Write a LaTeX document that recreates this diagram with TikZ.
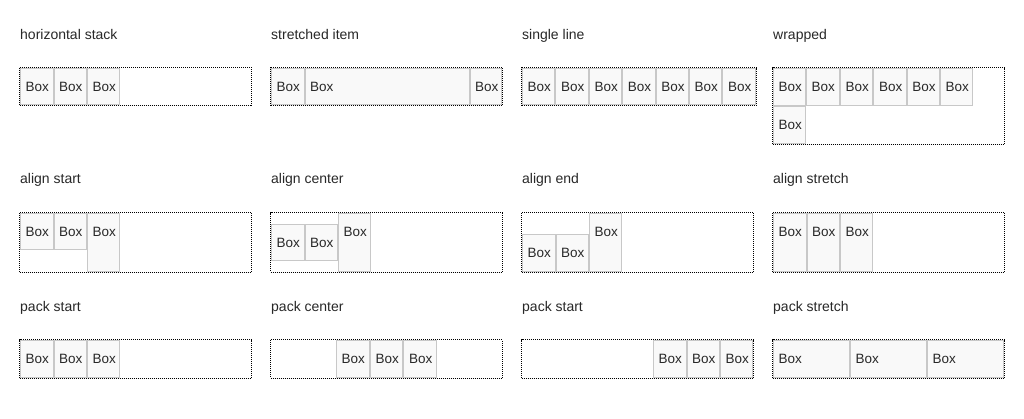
\documentclass[tikz,border=0pt]{standalone}
\usepackage{fontspec}
\setmainfont{Liberation Sans}
\definecolor{boxfill}{HTML}{F9F9F9}
\definecolor{boxline}{HTML}{C8C8C8}
\definecolor{txt}{HTML}{282828}
\tikzset{
 cont/.style={draw=black, densely dotted, line width=1pt, rectangle, inner sep=0pt, outer sep=0pt, anchor=north west},
 bx/.style={draw=boxline, fill=boxfill, line width=1pt, rectangle, inner sep=0pt, outer sep=0pt, anchor=north west},
 bxt/.style={anchor=base west, inner sep=0pt, text=txt, font=\fontsize{13.5}{15}\selectfont},
 ttl/.style={anchor=base west, inner sep=0pt, text=txt, font=\fontsize{14}{16}\selectfont},
}
% container: name, left, top, right, bottom (outer edges, px)
\newcommand\ctr[5]{\node[cont, minimum width={(#4-#2-1)*1pt}, minimum height={(#5-#3-1)*1pt}] (#1) at (#2+0.5,#3+0.5) {};}
% box: name, left, top, right, bottom
\newcommand\bx[5]{\node[bx, minimum width={(#4-#2-1)*1pt}, minimum height={(#5-#3-1)*1pt}] (#1) at (#2+0.5,#3+0.5) {};
 \node[bxt] (#1t) at ([shift={(5,23)}]#1.north west) {Box};}
\begin{document}
\begin{tikzpicture}[x=1pt,y=-1pt]
\useasboundingbox[fill=white] (0,0) rectangle (1024,418);
% titles
\node[ttl] (t11) at (20,39) {horizontal stack};
\node[ttl] (t12) at (271,39) {stretched item};
\node[ttl] (t13) at (522,39) {single line};
\node[ttl] (t14) at (773,39) {wrapped};
\node[ttl] (t21) at (20,183) {align start};
\node[ttl] (t22) at (271,183) {align center};
\node[ttl] (t23) at (522,183) {align end};
\node[ttl] (t24) at (773,183) {align stretch};
\node[ttl] (t31) at (20,311) {pack start};
\node[ttl] (t32) at (271,311) {pack center};
\node[ttl] (t33) at (522,311) {pack start};
\node[ttl] (t34) at (773,311) {pack stretch};
% row 1
\ctr{c11}{19}{67}{252}{106}
\bx{c11a}{20}{68}{53.5}{105}
\bx{c11b}{53.5}{68}{87}{105}
\bx{c11c}{87}{68}{120}{105}
\ctr{c12}{270}{67}{502.5}{106}
\bx{c12a}{271}{68}{304.5}{105}
\bx{c12b}{304.5}{68}{469.5}{105}
\bx{c12c}{469.5}{68}{502}{105}
\ctr{c13}{521}{67}{756.5}{106}
\bx{c13a}{522}{68}{555.4}{105}
\bx{c13b}{555.4}{68}{588.8}{105}
\bx{c13c}{588.8}{68}{622.2}{105}
\bx{c13d}{622.2}{68}{655.6}{105}
\bx{c13e}{655.6}{68}{689}{105}
\bx{c13f}{689}{68}{722.4}{105}
\bx{c13g}{722.4}{68}{756}{105}
\ctr{c14}{772}{67}{1005}{144.5}
\bx{c14a}{773}{68}{806}{105.5}
\bx{c14b}{806}{68}{840}{105.5}
\bx{c14c}{840}{68}{873.3}{105.5}
\bx{c14d}{873.3}{68}{906.7}{105.5}
\bx{c14e}{906.7}{68}{940}{105.5}
\bx{c14f}{940}{68}{973.3}{105.5}
\bx{c14g}{773}{105.5}{806}{143.5}
% row 2
\ctr{c21}{19}{212}{252}{272.5}
\bx{c21a}{20}{213}{53.5}{250}
\bx{c21b}{53.5}{213}{87}{250}
\bx{c21c}{87}{213}{120}{271.5}
\ctr{c22}{270}{212}{502.5}{272.5}
\bx{c22a}{271}{223.5}{304.5}{261}
\bx{c22b}{304.5}{223.5}{338}{261}
\bx{c22c}{338}{213}{370.5}{271.5}
\ctr{c23}{521}{212}{754}{272.5}
\bx{c23a}{522}{234}{555.5}{271.5}
\bx{c23b}{555.5}{234}{589}{271.5}
\bx{c23c}{589}{213}{622}{271.5}
\ctr{c24}{772}{212}{1005}{272.5}
\bx{c24a}{773}{213}{806.5}{271.5}
\bx{c24b}{806.5}{213}{840}{271.5}
\bx{c24c}{840}{213}{873.3}{271.5}
% row 3
\ctr{c31}{19}{339}{252}{378.5}
\bx{c31a}{20}{340}{53.5}{377.5}
\bx{c31b}{53.5}{340}{87}{377.5}
\bx{c31c}{87}{340}{120}{377.5}
\ctr{c32}{270}{339}{502.5}{378.5}
\bx{c32a}{336}{340}{370}{377.5}
\bx{c32b}{370}{340}{403.3}{377.5}
\bx{c32c}{403.3}{340}{437}{377.5}
\ctr{c33}{521}{339}{754}{378.5}
\bx{c33a}{653}{340}{686.5}{377.5}
\bx{c33b}{686.5}{340}{720}{377.5}
\bx{c33c}{720}{340}{753}{377.5}
\ctr{c34}{772}{339}{1005}{378.5}
\bx{c34a}{773}{340}{850}{377.5}
\bx{c34b}{850}{340}{927}{377.5}
\bx{c34c}{927}{340}{1004}{377.5}
\end{tikzpicture}
\end{document}
